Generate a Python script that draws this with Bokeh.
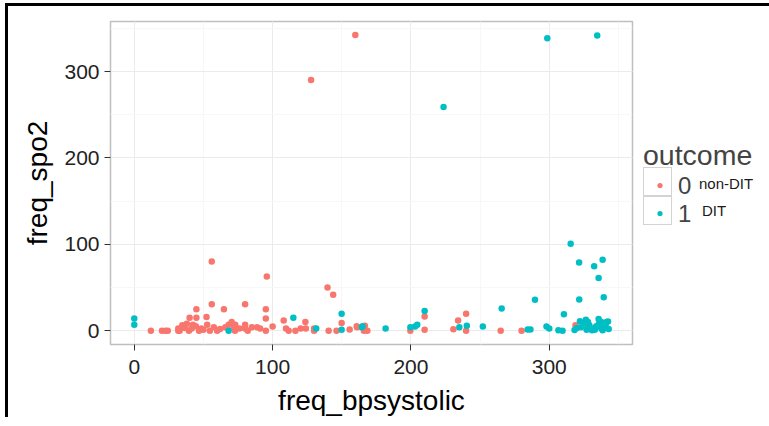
from bokeh.plotting import figure
from bokeh.models import Legend, LegendItem, SingleIntervalTicker, Range1d, Div
from bokeh.layouts import column
from bokeh.embed import file_html
from bokeh.resources import INLINE

# outcome 0 (non-DIT)
x0 = [159.8, 127.8, 56, 95.8, 139.7, 143.8,
      12, 20, 22.6, 24.2, 31.8, 32.8, 31.8, 34.7, 36.6, 38, 40, 39.5, 41.5, 42.4,
      44.9, 44.9, 44.5, 46.8, 48.5, 50, 52.2, 52.7, 54.6, 56, 57.5, 59.9, 62,
      64.8, 65.8, 68.2, 70.4, 72, 72.8, 73, 76, 80.1, 80.1, 80.1, 82, 85, 88.7,
      91, 95.1, 95.1, 95.1, 100, 108, 109.7, 111.6, 116.5, 120.3, 123.7, 124,
      130, 130, 140.5, 146.2, 149.9, 155.7, 161, 160.8, 166.7, 166, 168.5,
      199.6, 209.9, 209.9, 230.7, 234.1, 239.9, 239.9, 264.9, 280, 319, 327.5]
y0 = [342.5, 290.3, 80.1, 62.6, 50.1, 41.5,
      0, 0, 0, 0, 0, 0, 2.5, 6.4, 3, 8, 15, 0, 2.5, 7,
      24.7, 15, 5, 0, 2.5, 1, 15.7, 7, 0, 30.5, 4, 0, 2,
      24.7, 4, 7, 10, 4, 0, 7, 2.5, 30.5, 7, 2.5, 0, 4, 4,
      2.5, 24.7, 14, 0, 4.8, 11.8, 2.5, 0, 0, 2.5, 10, 2.5,
      2.5, 0, 0, 0, 8.8, 1.5, 4, 5, 5.6, 0, 0,
      0, 16.5, 1, 1.7, 11.8, 19.6, 0, 0, 0, 6.4, 2]

# outcome 1 (DIT)
x1 = [0, 0, 68.2, 115, 131.5, 149.9, 149.9, 164.5, 165, 181.7, 199.6, 203, 204.6,
      209.9, 223.6, 235, 240.4, 252, 265.6, 284.4, 286.4, 289.7, 298, 300, 298.6,
      306.6, 309.6, 310.6, 315.5, 318.3, 321.6, 321.7, 322.2, 325.1, 326.5, 329,
      330.9, 331.9, 332.5, 334.7, 335.7, 335.7, 337.6, 337.6, 338.6, 338.6, 339.4,
      340.1, 341.5, 342.5, 320, 323, 327, 334, 336, 341, 343, 328, 333]
y1 = [14, 7, 0, 15, 2.5, 19.6, 1, 4, 5, 2.5, 4, 4.8, 7,
      22.8, 259.1, 4, 5.6, 4.8, 25.8, 1.5, 1.5, 35.7, 4.8, 2.5, 338.6,
      0.6, 0, 18.9, 100.8, 0.8, 78.9, 36, 11, 8, 12.6, 6.4,
      0.6, 2.5, 74.7, 341.7, 61, 13.4, 10, 2.5, 82.1, 0.6, 38.7,
      7.6, 10, 10.5, 3, 4, 1, 5, 8, 4, 2, 10, 1]

x_ticks = [0, 100, 200, 300]
y_ticks = [0, 100, 200, 300]
legend_title = "outcome"
legend_labels = ["0", "1"]
legend_notes = ["non-DIT", "DIT"]
c0, c1 = "#F8766D", "#00BFC4"
FONT = "Liberation Sans"

p = figure(output_backend="svg", toolbar_location=None,
           frame_width=519, frame_height=320,
           x_range=Range1d(-17.2, 360.2), y_range=Range1d(-16, 358),
           min_border_left=102, min_border_top=15,
           min_border_right=128, min_border_bottom=76)
p.styles = {"border-left": "3px solid black", "border-top": "3px solid black",
            "margin-left": "5px", "margin-top": "3px"}

r0 = p.scatter(x0, y0, size=6.5, color=c0, line_color=None)
r1 = p.scatter(x1, y1, size=6.5, color=c1, line_color=None)

p.xaxis.ticker = SingleIntervalTicker(interval=100, num_minor_ticks=2)
p.yaxis.ticker = SingleIntervalTicker(interval=100, num_minor_ticks=2)
p.xaxis.axis_label = "freq_bpsystolic"
p.yaxis.axis_label = "freq_spo2"
for ax in (p.xaxis, p.yaxis):
    ax.axis_line_color = None
    ax.minor_tick_line_color = None
    ax.major_tick_in = 0
    ax.major_tick_out = 6
    ax.major_tick_line_color = "#333333"
    ax.major_label_text_font = FONT
    ax.major_label_text_font_size = "21px"
    ax.major_label_text_color = "#222222"
    ax.axis_label_text_font = FONT
    ax.axis_label_text_font_size = "28px"
    ax.axis_label_text_font_style = "normal"
    ax.axis_label_text_color = "#000000"
    ax.axis_label_standoff = 8
p.xaxis.major_label_standoff = 9
p.yaxis.major_label_standoff = 5

p.xgrid.grid_line_color = "#EBEBEB"
p.ygrid.grid_line_color = "#EBEBEB"
p.xgrid.minor_grid_line_color = "#F7F7F7"
p.ygrid.minor_grid_line_color = "#F7F7F7"
p.outline_line_color = "#BFBFBF"
p.outline_line_width = 1.5
p.background_fill_color = "white"

legend = Legend(items=[LegendItem(label=legend_labels[0], renderers=[r0]),
                       LegendItem(label=legend_labels[1], renderers=[r1])],
                title=legend_title, location="center_left")
legend.title_text_font = FONT
legend.title_text_font_size = "28.5px"
legend.title_text_font_style = "normal"
legend.label_text_font = FONT
legend.label_text_font_size = "24px"
legend.glyph_width = 33
legend.glyph_height = 13
legend.label_height = 28
legend.label_standoff = 2
legend.spacing = 0
legend.padding = 2
legend.margin = 11
legend.border_line_color = None
legend.background_fill_alpha = 0
legend.title_standoff = -3
p.add_layout(legend, "right")

# small note texts and key boxes beside the legend (page overlay)
def note(text, left, top):
    return Div(text=text, styles={"position": "absolute", "left": f"{left}px",
                                  "top": f"{top}px", "margin": "0", "padding": "0",
                                  "font-family": FONT, "font-size": "15px",
                                  "line-height": "15px", "color": "#1A1A1A",
                                  "white-space": "nowrap"})

def keybox(left, top):
    return Div(text="", styles={"position": "absolute", "left": f"{left}px",
                                "top": f"{top}px", "width": "27px", "height": "27px",
                                "border": "1px solid #D3D3D3", "margin": "0",
                                "padding": "0", "box-sizing": "content-box"})

overlays = [keybox(643, 167), keybox(643, 196),
            note(legend_notes[0], 699, 176), note(legend_notes[1], 702, 203)]

layout = column(p, *overlays)
open("out.html", "w").write(file_html(layout, INLINE))
